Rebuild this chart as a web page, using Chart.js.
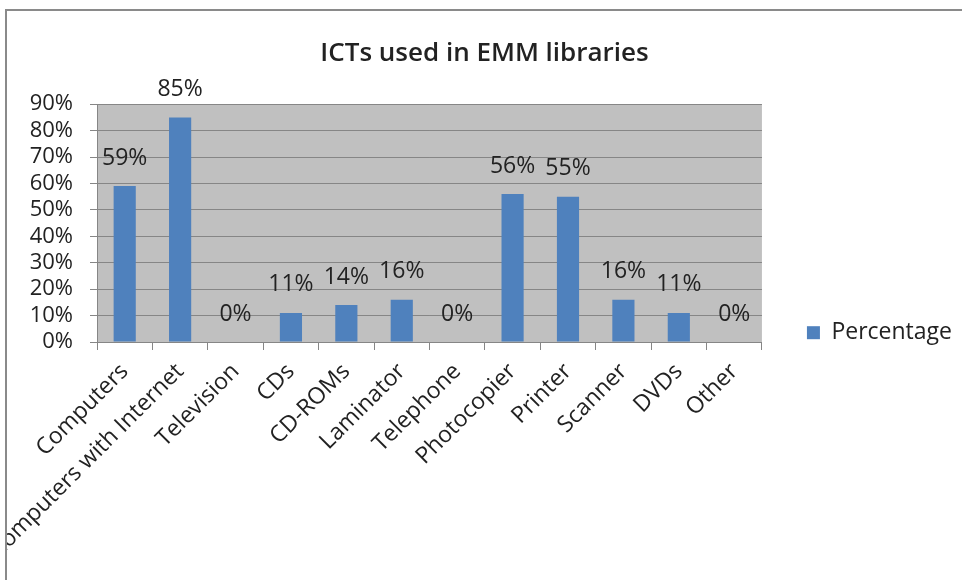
<!DOCTYPE html>
<html>
<head>
<meta charset="utf-8">
<script src="https://cdn.jsdelivr.net/npm/chart.js@4.4.1/dist/chart.umd.min.js"></script>
<style>
  html, body { margin: 0; padding: 0; background: #fff; overflow: hidden; }
  #frame {
    position: absolute; left: 5px; top: 9px;
    width: 1100px; height: 700px;
    border-left: 2px solid #8a8a8a; border-top: 2px solid #8a8a8a;
    overflow: hidden;
  }
  #chart { display: block; }
</style>
</head>
<body>
<div id="frame"><canvas id="chart" width="955" height="569"></canvas></div>
<script>
const categories = ['Computers', 'Computers with Internet', 'Television', 'CDs', 'CD-ROMs', 'Laminator',
  'Telephone', 'Photocopier', 'Printer', 'Scanner', 'DVDs', 'Other'];
const percentage = [59, 85, 0, 11, 14, 16, 0, 56, 55, 16, 11, 0];
const yTicks = { min: 0, max: 90, step: 10 };

const FONT = 'Open Sans';
const TEXT = '#222';
const AXIS = '#868686';

// grey plot area like the spreadsheet chart
const plotBg = {
  id: 'plotBg',
  beforeDraw(chart) {
    const { ctx, chartArea: a } = chart;
    ctx.save();
    ctx.fillStyle = '#C0C0C0';
    ctx.fillRect(a.left, a.top, a.right - a.left, a.bottom - a.top);
    ctx.restore();
  }
};

// value labels above each bar
const barLabels = {
  id: 'barLabels',
  afterDatasetsDraw(chart) {
    const { ctx } = chart;
    ctx.save();
    ctx.font = `23px "${FONT}"`;
    ctx.fillStyle = TEXT;
    ctx.textAlign = 'center';
    ctx.textBaseline = 'middle';
    chart.getDatasetMeta(0).data.forEach((bar, i) => {
      ctx.fillText(percentage[i] + '%', bar.x, bar.y - 28);
    });
    ctx.restore();
  }
};

new Chart(document.getElementById('chart'), {
  type: 'bar',
  data: {
    labels: categories,
    datasets: [{
      label: 'Percentage',
      data: percentage,
      backgroundColor: '#4F81BD',
      borderWidth: 0,
      barPercentage: 0.4,
      categoryPercentage: 1
    }]
  },
  options: {
    responsive: false,
    animation: false,
    devicePixelRatio: 1,
    layout: { padding: 0 },
    plugins: {
      title: {
        display: true,
        text: 'ICTs used in EMM libraries',
        color: TEXT,
        font: { family: FONT, size: 26, weight: '600' },
        padding: { top: 27, bottom: 35 }
      },
      legend: {
        position: 'right',
        // empty title only pushes the entry down a bit
        title: { display: true, text: '', font: { size: 12 }, padding: { top: 60, bottom: 0 } },
        labels: {
          font: { family: FONT, size: 23 },
          color: TEXT,
          boxWidth: 13,
          boxHeight: 13,
          padding: 45
        }
      },
      tooltip: { enabled: false }
    },
    scales: {
      x: {
        afterFit(scale) { scale.height = 238; },
        grid: { drawOnChartArea: false, color: AXIS, tickLength: 8 },
        border: { display: true, color: AXIS },
        ticks: {
          autoSkip: false,
          minRotation: 45,
          maxRotation: 45,
          padding: 8,
          color: TEXT,
          font: { family: FONT, size: 23 }
        }
      },
      y: {
        min: yTicks.min,
        max: yTicks.max,
        afterFit(scale) { scale.width = 90; },
        grid: { color: AXIS, tickLength: 7 },
        border: { display: true, color: AXIS },
        ticks: {
          autoSkip: false,
          stepSize: yTicks.step,
          padding: 17,
          color: TEXT,
          font: { family: FONT, size: 22 },
          callback: v => v + '%'
        }
      }
    }
  },
  plugins: [plotBg, barLabels]
});
</script>
</body>
</html>
